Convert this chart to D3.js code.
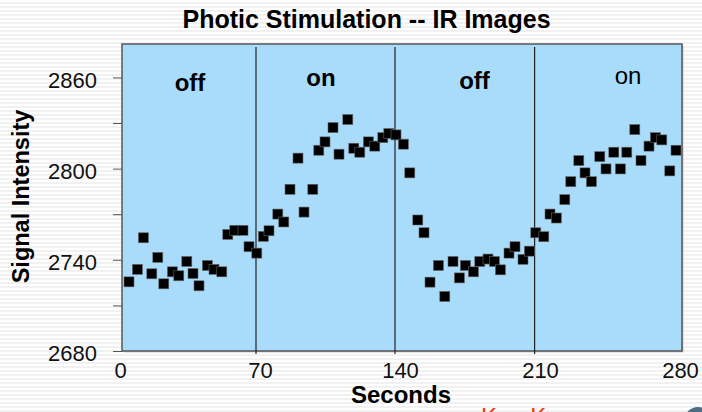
<head>
<meta charset="utf-8">
<style>

body {
	margin: 0;
	background: repeating-linear-gradient(to bottom, #ffffff 0px, #ffffff 2px, #f1f1f1 2px, #f1f1f1 4px);
	font-family: "Liberation Sans", Arial, Helvetica, sans-serif;
}

.axis path,
.axis line {
	fill: none;
	stroke: #555;
}

.axis text {
	font-size: 22px;
	fill: #111;
}

.dot {
	fill: #000;
	stroke: #666;
	stroke-width: 0.6;
}

</style>
<script src="https://d3js.org/d3.v7.min.js"></script>
</head>

<body>
<div id='chart'></div>

<script>

	var seconds = [3.5, 7.7, 10.7, 14.9, 17.9, 20.9, 25.2, 28.4, 32.4, 35.5, 38.5, 42.7, 46, 49.9, 52.9, 56.4, 60.5, 63.5, 67.4, 70.7,
		73.5, 77.9, 80.9, 84, 88, 91, 95.4, 98.4, 101.5, 105.5, 108.5, 112.9, 115.9, 118.9, 123.2, 126.4, 130.4, 133.4, 137, 140.7,
		143.9, 147.9, 151, 154, 158.2, 161.4, 165.5, 168.7, 171.7, 175.7, 178.9, 183, 186.2, 189.2, 193.5, 196.5, 200.5, 203.7, 206.9, 210.9,
		214, 217.2, 221.4, 224.4, 228.4, 231.5, 234.7, 238.9, 242, 245.9, 249.2, 252.4, 256.4, 259.5, 263.5, 266.7, 269.9, 273.9, 277];

	var signal = [2725.5, 2733.7, 2754.5, 2730.8, 2741.6, 2724.2, 2732.1, 2729.5, 2738.9, 2731, 2722.9, 2736.3, 2733.7, 2732.1, 2756.7, 2759.4, 2759.4, 2748.6, 2744.4, 2755.4,
		2759.1, 2770.1, 2764.9, 2786.4, 2806.9, 2771.4, 2786.4, 2812.1, 2817.6, 2827, 2809.5, 2832.3, 2813.4, 2810.8, 2817.6, 2814.8, 2820.4, 2823.1, 2822.2, 2816.1,
		2797.2, 2766.2, 2757.8, 2725.3, 2736.3, 2715.9, 2738.9, 2728.1, 2736.3, 2732.1, 2738.9, 2740.5, 2738.9, 2733.4, 2744.4, 2748.6, 2740.3, 2745.7, 2757.8, 2755.2,
		2770.1, 2767.5, 2779.6, 2791.4, 2805.3, 2797.2, 2791.4, 2807.9, 2799.8, 2810.8, 2799.8, 2810.8, 2825.7, 2805.3, 2814.8, 2820.4, 2818.9, 2798.5, 2812.1];

	var xTicks = [0, 70, 140, 210, 280];
	var yTicks = [2680, 2740, 2800, 2860];
	var yMinorTicks = [2710, 2770, 2830];

	// stimulus blocks: boundaries (s) and their labels
	var phaseBounds = [67, 136.5, 206.3];
	var phaseLabels = ['off', 'on', 'off', 'on'];
	var phaseLabelAt = [34, 99.5, 176.25, 253];

	var margin = {top: 44, right: 20, bottom: 61, left: 122},
	    width = 702 - margin.left - margin.right,
	    height = 412 - margin.top - margin.bottom;

	var x = d3.scaleLinear()
		.domain([0, 280])
		.range([0, width]);

	var y = d3.scaleLinear()
		.domain([2680, 2882])
		.range([height, 0]);

	var root = d3.select('#chart').append('svg')
		.attr('width', 702)
		.attr('height', 412)
		.style('display', 'block');

	root.append('text')
		.attr('x', 366.5)
		.attr('y', 28)
		.attr('text-anchor', 'middle')
		.style('font-size', '25px')
		.style('font-weight', 'bold')
		.text('Photic Stimulation -- IR Images');

	var svg = root.append('g')
		.attr('transform', 'translate(' + margin.left + ',' + margin.top + ')');

	svg.append('rect')
		.attr('x', 1.5)
		.attr('y', 1.5)
		.attr('width', width)
		.attr('height', height)
		.attr('fill', '#c9c9c9');

	svg.append('rect')
		.attr('width', width)
		.attr('height', height)
		.attr('fill', '#a9dcfb')
		.attr('stroke', '#555')
		.attr('stroke-width', 1.5);

	svg.selectAll('.divider')
		.data(phaseBounds)
		.enter().append('line')
			.attr('class', 'divider')
			.attr('x1', function(d) { return x(d) })
			.attr('x2', function(d) { return x(d) })
			.attr('y1', 3)
			.attr('y2', height + 3)
			.attr('stroke', '#222')
			.attr('stroke-width', 1.2);

	var labelY = [90.7, 85.7, 89, 83.7];
	svg.selectAll('.phase')
		.data(phaseLabels)
		.enter().append('text')
			.attr('class', 'phase')
			.attr('x', function(d, i) { return x(phaseLabelAt[i]) })
			.attr('y', function(d, i) { return labelY[i] - margin.top })
			.attr('text-anchor', 'middle')
			.style('font-size', '24px')
			.style('font-weight', function(d, i) { return i == 3 ? 'normal' : 'bold' })
			.text(function(d) { return d });

	var xAxis = svg.append('g')
		.attr('class', 'axis')
		.attr('transform', 'translate(0,' + height + ')')
		.call(d3.axisBottom(x).tickValues(xTicks).tickSize(0).tickPadding(11));
	xAxis.select('.domain').remove();
	xAxis.selectAll('text').attr('dx', -2);

	var yAxis = svg.append('g')
		.attr('class', 'axis')
		.call(d3.axisLeft(y).tickValues(yTicks).tickSize(9).tickPadding(16).tickFormat(d3.format('d')));
	yAxis.select('.domain').remove();
	yAxis.selectAll('text').attr('dy', '0.45em');

	svg.append('g')
		.attr('class', 'axis')
		.call(d3.axisLeft(y).tickValues(yMinorTicks).tickSize(9).tickFormat(''))
		.select('.domain').remove();

	var data = seconds.map(function(s, i) { return [s, signal[i]] });

	svg.selectAll('.dot')
		.data(data)
		.enter().append('rect')
			.attr('class', 'dot')
			.attr('x', function(d) { return x(d[0]) - 5 })
			.attr('y', function(d) { return y(d[1]) - 5 })
			.attr('width', 10)
			.attr('height', 10);

	root.append('text')
		.attr('x', 401)
		.attr('y', 403)
		.attr('text-anchor', 'middle')
		.style('font-size', '24px')
		.style('font-weight', 'bold')
		.text('Seconds');

	root.append('text')
		.attr('transform', 'translate(29,196.5) rotate(-90)')
		.attr('text-anchor', 'middle')
		.style('font-size', '23.5px')
		.style('font-weight', 'bold')
		.text('Signal Intensity');

	root.append('text')
		.attr('x', 481)
		.attr('y', 424.5)
		.style('font-size', '24px')
		.attr('fill', '#ee3a1a')
		.text('Ken Kwong');

	root.append('ellipse')
		.attr('cx', 698)
		.attr('cy', 419)
		.attr('rx', 13)
		.attr('ry', 12)
		.attr('fill', '#4d6d85');

</script>
</body>
